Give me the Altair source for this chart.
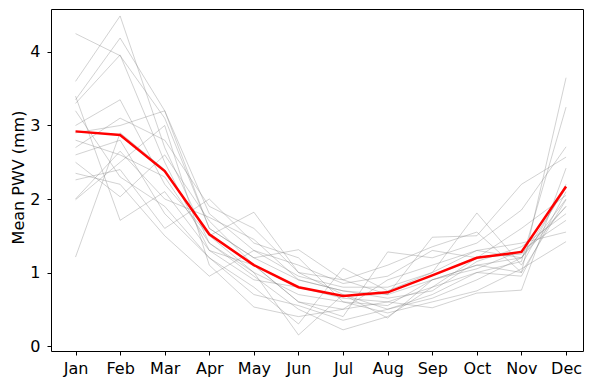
import altair as alt
import pandas as pd

months = ["Jan", "Feb", "Mar", "Apr", "May", "Jun", "Jul", "Aug", "Sep", "Oct", "Nov", "Dec"]

years = [
    [4.25, 3.95, 3.10, 1.60, 1.20, 0.90, 0.75, 0.70, 0.90, 1.10, 1.20, 1.90],
    [3.60, 4.49, 2.70, 1.40, 1.00, 0.70, 0.60, 0.55, 0.90, 1.10, 1.00, 3.65],
    [3.35, 4.19, 3.20, 1.80, 1.30, 0.95, 0.80, 0.80, 1.00, 1.30, 1.20, 2.00],
    [3.30, 3.96, 2.50, 1.30, 1.10, 0.60, 0.50, 0.60, 0.80, 1.00, 0.95, 2.10],
    [3.00, 3.35, 2.20, 1.50, 1.82, 1.00, 0.70, 0.50, 0.70, 1.00, 1.15, 3.25],
    [2.90, 3.00, 3.20, 1.60, 1.20, 1.31, 0.90, 0.70, 1.48, 1.50, 2.20, 2.57],
    [2.80, 2.60, 2.30, 1.40, 0.95, 0.50, 0.22, 0.40, 0.80, 1.20, 1.25, 1.90],
    [2.60, 2.80, 1.80, 1.20, 0.80, 0.30, 1.06, 0.75, 1.00, 1.81, 1.10, 2.20],
    [2.50, 2.03, 2.60, 1.70, 1.10, 0.60, 0.40, 1.28, 1.20, 1.40, 1.85, 2.71],
    [2.26, 2.40, 1.60, 2.00, 1.40, 1.20, 0.60, 0.45, 0.60, 0.75, 1.05, 1.42],
    [1.99, 2.50, 3.00, 1.10, 0.53, 0.40, 0.50, 0.90, 1.10, 1.30, 1.40, 1.55],
    [1.21, 2.90, 2.40, 1.50, 1.00, 0.15, 0.70, 0.38, 0.90, 1.05, 1.30, 1.71],
    [3.40, 1.71, 2.10, 1.30, 0.90, 0.80, 0.65, 0.60, 0.52, 0.72, 0.76, 2.42],
    [2.35, 2.20, 1.50, 0.95, 1.30, 1.10, 0.85, 0.95, 1.30, 1.20, 1.60, 2.05],
    [2.70, 3.10, 2.80, 1.90, 1.60, 1.00, 0.90, 1.10, 1.35, 1.55, 1.00, 1.99],
    [3.20, 2.30, 1.90, 1.20, 0.70, 0.55, 0.35, 0.50, 0.65, 0.90, 1.20, 2.15],
    [2.00, 2.65, 2.00, 1.75, 1.45, 0.90, 0.75, 0.65, 0.75, 1.15, 1.35, 1.80],
]

mean_pwv = [2.92, 2.87, 2.38, 1.52, 1.10, 0.80, 0.68, 0.73, 0.96, 1.20, 1.28, 2.17]

grey_rows = []
for yi, vals in enumerate(years):
    for mi, v in enumerate(vals):
        grey_rows.append({"year": yi, "m": mi, "pwv": v})
grey_df = pd.DataFrame(grey_rows)
mean_df = pd.DataFrame({"m": list(range(12)), "pwv": mean_pwv})

label_expr = "[" + ",".join("'%s'" % m for m in months) + "][datum.value]"

FS = 16
x_axis = alt.Axis(values=list(range(12)), labelExpr=label_expr, title=None,
                  grid=False, domain=False, tickSize=4, tickColor="black",
                  labelPadding=5, labelFontSize=FS, labelColor="black",
                  labelFont="DejaVu Sans")
y_axis = alt.Axis(values=[0, 1, 2, 3, 4], format="d", title="Mean PWV (mm)", grid=False,
                  domain=False, tickSize=4, tickColor="black", labelPadding=7,
                  labelFontSize=FS, labelColor="black", labelFont="DejaVu Sans",
                  titleFont="DejaVu Sans", titleFontSize=FS, titleFontWeight="normal",
                  titleColor="black", titleAngle=270, titleX=-33, titleY=168,
                  titleAlign="center", titleBaseline="middle")
x_scale = alt.Scale(domain=[-0.55, 11.38], nice=False, zero=False)
y_scale = alt.Scale(domain=[-0.068, 4.585], nice=False, zero=False)

grey = alt.Chart(grey_df).mark_line(color="#808080", opacity=0.45, strokeWidth=0.8).encode(
    x=alt.X("m:Q", scale=x_scale, axis=x_axis),
    y=alt.Y("pwv:Q", scale=y_scale, axis=y_axis),
    detail="year:N",
)
red = alt.Chart(mean_df).mark_line(color="#ff0000", strokeWidth=2.5).encode(
    x=alt.X("m:Q", scale=x_scale, axis=x_axis),
    y=alt.Y("pwv:Q", scale=y_scale, axis=y_axis),
)

chart = (
    alt.layer(grey, red)
    .properties(width=532, height=342,
                autosize=alt.AutoSizeParams(type="none"),
                padding={"left": 43, "top": 1, "right": 1, "bottom": 28},
                background="white")
    .configure_view(stroke="black", strokeWidth=1)
)

chart.save("out.html", embed_options={"renderer": "svg", "actions": False})
